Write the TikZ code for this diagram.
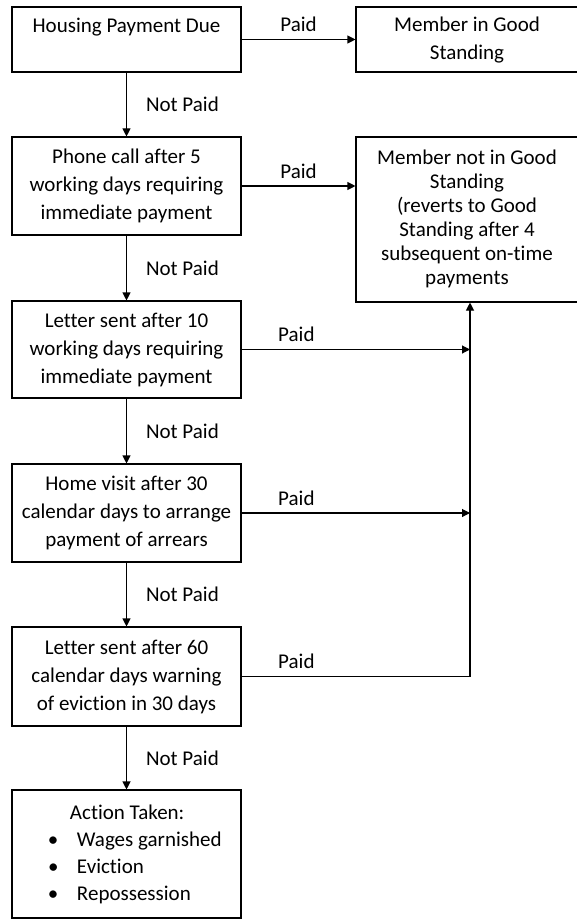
\documentclass[tikz,border=0pt]{standalone}
\usepackage{fontspec}
\setmainfont{Carlito}[Ligatures=CommonOff]
\usetikzlibrary{arrows.meta, positioning}
\tikzset{
  stepbox/.style={draw, line width=1.1pt, minimum width=229pt, inner sep=0pt,
    text width=225pt, align=flush center, font=\fontsize{21}{28}\selectfont},
  sidebox/.style={draw, line width=1.1pt, minimum width=252pt, inner sep=0pt,
    font=\fontsize{21}{24}\selectfont},
  flow/.style={-{Triangle[length=8pt, width=8pt]}, line width=1.1pt},
  lbl/.style={font=\fontsize{21}{24}\selectfont, inner sep=2pt},
}
\newcommand{\sidetext}[1]{\begin{tabular}{@{}c@{}}#1\end{tabular}\hspace*{30pt}}

\begin{document}
\begin{tikzpicture}[x=1pt, y=-1pt]
  \useasboundingbox (0,0) rectangle (576,920);
  \node[stepbox, minimum height=65] (due) at (126.5,39.5) {Housing Payment Due\\ ~};
  \node[sidebox, minimum height=65, font=\fontsize{21}{28}\selectfont] (good) at (482,39.5)
    {\sidetext{Member in Good\\ Standing}};
  \node[stepbox, minimum height=98] (phone) at (126.5,186)
    {Phone call after 5\\ working days requiring\\ immediate payment};
  \node[sidebox, minimum height=165] (notgood) at (482,219.5)
    {\sidetext{Member not in Good\\ Standing\\ (reverts to Good\\ Standing after 4\\ subsequent on-time\\ payments}};
  \node[stepbox, minimum height=97] (lettera) at (126.5,349.5)
    {Letter sent after 10\\ working days requiring\\ immediate payment};
  \node[stepbox, minimum height=98] (visit) at (126.5,513)
    {Home visit after 30\\ calendar days to arrange\\ payment of arrears};
  \node[stepbox, minimum height=99] (letterb) at (126.5,676.5)
    {Letter sent after 60\\ calendar days warning\\ of eviction in 30 days};
  \node[stepbox, minimum height=128, text width=229pt, align=flush left,
    font=\fontsize{21}{27}\selectfont] (act) at (126.5,854)
    {\hspace*{58pt}Action Taken:\\
     \hspace*{36pt}\makebox[29pt][l]{\textbullet}Wages garnished\\
     \hspace*{36pt}\makebox[29pt][l]{\textbullet}Eviction\\
     \hspace*{36pt}\makebox[29pt][l]{\textbullet}Repossession};
  \coordinate (join) at ([xshift=-12pt]notgood.south);

  \foreach \a/\b in {due/phone, phone/lettera, lettera/visit, visit/letterb, letterb/act}
    \draw[flow] (\a) -- node[lbl, right=17pt] {Not Paid} (\b);
  \draw[flow] (due) -- node[lbl, above=5pt] {Paid} (good);
  \draw[flow] (phone.east) -- node[lbl, above=5pt] {Paid} (phone.east -| notgood.west);
  \foreach \a in {lettera, visit}
    \draw[flow] (\a.east) -- node[lbl, above=5pt, pos=0.24] {Paid} (\a.east -| join);
  \draw[flow] (letterb.east) -| node[lbl, above=5pt, pos=0.12] {Paid} (join);
\end{tikzpicture}
\end{document}
